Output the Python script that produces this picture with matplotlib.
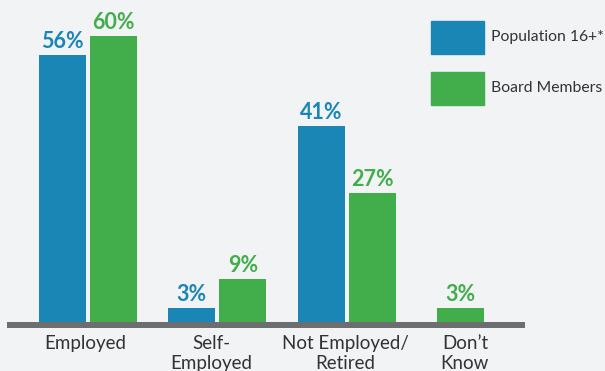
import matplotlib.pyplot as plt
from matplotlib.patches import Rectangle
import numpy as np

plt.rcParams['font.family'] = ['Lato', 'DejaVu Sans']

categories = ['Employed', 'Self-\nEmployed', 'Not Employed/\nRetired', 'Don\u2019t\nKnow']
population = [56, 3, 41, None]
board = [60, 9, 27, 3]
series_names = ['Population 16+*', 'Board Members']

BLUE = '#1a86b6'
GREEN = '#41ae4b'
BG = '#f2f3f5'
AXIS = '#6d6e70'
TEXT = '#333333'

W, H, DPI = 605, 371, 100
fig = plt.figure(figsize=(W / DPI, H / DPI), dpi=DPI, facecolor=BG)

# pixel layout: 129.3 px per group, 4.77 px per percent
px_group = 129.3
px_pct = 4.77
x0_px, base_px = 88, 322
left_px, right_px = 7, 525
top_px, bottom_px = 5, 328

ax = fig.add_axes([left_px / W, (H - bottom_px) / H,
                   (right_px - left_px) / W, (bottom_px - top_px) / H])
ax.set_facecolor(BG)
ax.set_xlim((left_px - x0_px) / px_group, (right_px - x0_px) / px_group)
ax.set_ylim(-(bottom_px - base_px) / px_pct, (base_px - top_px) / px_pct)

bar_w = 47 / px_group
off = 25.5 / px_group
x = np.arange(len(categories), dtype=float)

def label(xc, v, color):
    ax.annotate(f'{v}%', (xc, v), xytext=(0, 5), textcoords='offset points',
                ha='center', va='baseline', fontsize=15.5, fontweight='bold',
                color=color)

for i in range(len(categories)):
    if population[i] is None:
        # single-bar group
        xc = x[i] - 15.5 / px_group
        ax.bar(xc, board[i], width=bar_w, color=GREEN, zorder=3)
        label(xc, board[i], GREEN)
        continue
    ax.bar(x[i] - off, population[i], width=bar_w, color=BLUE, zorder=3)
    ax.bar(x[i] + off, board[i], width=bar_w, color=GREEN, zorder=3)
    label(x[i] - off, population[i], BLUE)
    label(x[i] + off, board[i], GREEN)

# thick baseline under the bars
ax.axhline(-3 / px_pct, color=AXIS, lw=6 * 72 / DPI, zorder=2)

tick_pos = [-0.025, 0.955, 1.99, 2.915]
ax.set_xticks(tick_pos)
ax.set_xticklabels(categories, fontsize=13.5, color=TEXT, linespacing=1.25)
ax.tick_params(axis='x', length=0, pad=5)
ax.set_yticks([])
for s in ax.spines.values():
    s.set_visible(False)

# legend boxes on the right
for j, (name, color) in enumerate(zip(series_names, [BLUE, GREEN])):
    y_top = 21 + j * 51
    fig.patches.append(Rectangle((431 / W, (H - y_top - 33) / H), 53 / W, 33 / H,
                                 transform=fig.transFigure, color=color))
    fig.text(491 / W, (H - y_top - 16.5) / H, name, fontsize=11.3, color=TEXT,
             va='center', ha='left')

fig.savefig('out.png', dpi=DPI, facecolor=BG)
